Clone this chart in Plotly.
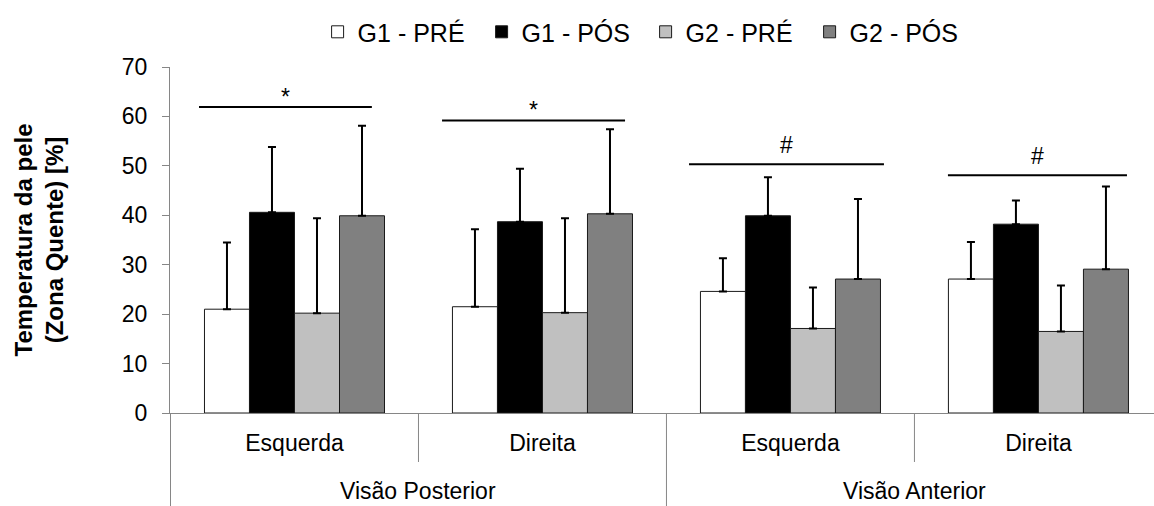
import plotly.graph_objects as go

sub_labels = ["Esquerda", "Direita", "Esquerda", "Direita"]
group_labels = ["Visão Posterior", "Visão Anterior"]
series_names = ["G1 - PRÉ", "G1 - PÓS", "G2 - PRÉ", "G2 - PÓS"]

g1_pre = [21.0, 21.5, 24.6, 27.1]
g1_pre_sd = [13.5, 15.7, 6.7, 7.5]
g1_pos = [40.6, 38.7, 39.9, 38.2]
g1_pos_sd = [13.2, 10.7, 7.8, 4.8]
g2_pre = [20.2, 20.3, 17.1, 16.5]
g2_pre_sd = [19.2, 19.1, 8.3, 9.3]
g2_pos = [39.9, 40.3, 27.1, 29.1]
g2_pos_sd = [18.2, 17.1, 16.2, 16.7]

sig_symbols = ["*", "*", "#", "#"]
sig_y = [61.9, 59.2, 50.3, 48.1]
sig_x0 = [-0.385, 0.595, 1.591, 2.635]
sig_x1 = [0.312, 1.333, 2.377, 3.357]

colors = ["#ffffff", "#000000", "#c0c0c0", "#808080"]
values = [g1_pre, g1_pos, g2_pre, g2_pos]
sds = [g1_pre_sd, g1_pos_sd, g2_pre_sd, g2_pos_sd]

FONT = "Liberation Sans, Arial, sans-serif"
FS = 23
AXIS = "#868686"

x = list(range(len(sub_labels)))
fig = go.Figure()
for name, col, v, sd in zip(series_names, colors, values, sds):
    fig.add_trace(go.Bar(
        x=x, y=v, name=name,
        marker=dict(color=col, line=dict(color="#1a1a1a", width=1)),
        error_y=dict(type="data", array=sd, arrayminus=[0] * len(sd), symmetric=False,
                     color="#000000", thickness=2, width=4),
    ))

shapes = []
# sub-category dividers
for xv in [0.5, 2.5]:
    shapes.append(dict(type="line", xref="x", yref="paper", x0=xv, x1=xv, y0=0, y1=-0.1416,
                       line=dict(color=AXIS, width=1)))
# major dividers
for xv in [-0.5, 1.5]:
    shapes.append(dict(type="line", xref="x", yref="paper", x0=xv, x1=xv, y0=0, y1=-0.28,
                       line=dict(color=AXIS, width=1)))
# significance lines
for x0, x1, yv in zip(sig_x0, sig_x1, sig_y):
    shapes.append(dict(type="line", xref="x", yref="y", x0=x0, x1=x1, y0=yv, y1=yv,
                       line=dict(color="#000000", width=2)))

annotations = []
for x0, x1, yv, s in zip(sig_x0, sig_x1, sig_y, sig_symbols):
    annotations.append(dict(x=(x0 + x1) / 2, y=yv, xref="x", yref="y", text=s, showarrow=False,
                            yanchor="bottom", yshift=-5 if s == "*" else 4,
                            font=dict(family=FONT, size=FS, color="#000000")))
for i, g in enumerate(group_labels):
    annotations.append(dict(x=0.5 + 2 * i, y=-0.225, xref="x", yref="paper", text=g, showarrow=False,
                            yanchor="middle", font=dict(family=FONT, size=FS, color="#000000")))

fig.update_layout(
    width=1154, height=506,
    margin=dict(l=170, r=0, t=67, b=93, autoexpand=False),
    paper_bgcolor="#ffffff", plot_bgcolor="#ffffff",
    barmode="group", bargap=0.274, bargroupgap=0,
    font=dict(family=FONT, size=FS, color="#000000"),
    showlegend=True,
    legend=dict(orientation="h", x=0.150, xanchor="left", y=1.101, yanchor="middle",
                font=dict(family=FONT, size=25, color="#000000"), itemwidth=30,
                entrywidth=119, entrywidthmode="pixels",
                traceorder="normal", bgcolor="rgba(0,0,0,0)"),
    shapes=shapes, annotations=annotations,
    xaxis=dict(range=[-0.502, 3.466], tickmode="array", tickvals=x, ticktext=sub_labels,
               showline=True, linecolor=AXIS, linewidth=1, ticks="", showgrid=False,
               zeroline=False, automargin=False, ticklabelstandoff=9,
               tickfont=dict(family=FONT, size=FS, color="#000000")),
    yaxis=dict(range=[0, 70], tickmode="linear", tick0=0, dtick=10, showline=True,
               linecolor=AXIS, linewidth=1, ticks="outside", ticklen=7, tickcolor=AXIS,
               showgrid=False, zeroline=False, automargin=False, ticklabelstandoff=10,
               tickfont=dict(family=FONT, size=FS, color="#000000"),
               title=dict(text="<b>Temperatura da pele<br>(Zona Quente) [%]</b>",
                          font=dict(family=FONT, size=24, color="#000000"), standoff=51)),
)

fig.write_html("out.html", config={"displayModeBar": False},
               post_script="document.body.style.margin='0';document.body.style.overflow='hidden';")
